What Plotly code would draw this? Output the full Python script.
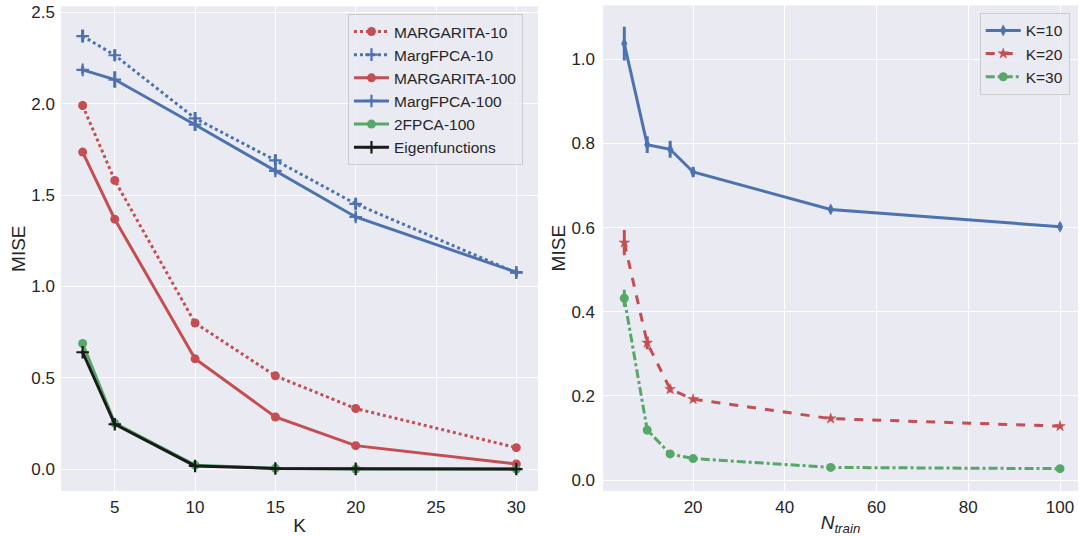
import plotly.graph_objects as go

# ---- data: MISE versus number of components K ----
k_values = [3, 5, 10, 15, 20, 30]
margarita_10 = [1.99, 1.58, 0.80, 0.511, 0.332, 0.118]
margarita_10_err = [0.025, 0.02, 0.01, 0.01, 0.01, 0.008]
margfpca_10 = [2.37, 2.265, 1.92, 1.69, 1.452, 1.075]
margfpca_10_err = [0.035, 0.03, 0.035, 0.03, 0.03, 0.02]
margarita_100 = [1.735, 1.368, 0.604, 0.286, 0.129, 0.029]
margarita_100_err = [0.01, 0.01, 0.008, 0.008, 0.006, 0.005]
margfpca_100 = [2.185, 2.132, 1.885, 1.632, 1.38, 1.078]
margfpca_100_err = [0.02, 0.045, 0.035, 0.02, 0.02, 0.015]
fpca2_100 = [0.688, 0.252, 0.022, 0.005, 0.001, 0.001]
fpca2_100_err = [0.01, 0.008, 0.005, 0.003, 0.002, 0.002]
eigenfunctions = [0.64, 0.246, 0.018, 0.004, 0.002, 0.001]
eigenfunctions_err = [0.01, 0.006, 0.004, 0.002, 0.001, 0.001]

# ---- data: MISE versus training-set size ----
n_train = [5, 10, 15, 20, 50, 100]
k10 = [1.037, 0.797, 0.786, 0.732, 0.643, 0.602]
k10_err = [0.04, 0.02, 0.02, 0.012, 0.008, 0.008]
k20 = [0.564, 0.326, 0.216, 0.192, 0.146, 0.128]
k20_err = [0.03, 0.015, 0.008, 0.005, 0.004, 0.004]
k30 = [0.432, 0.119, 0.062, 0.051, 0.030, 0.027]
k30_err = [0.02, 0.01, 0.008, 0.005, 0.004, 0.004]

BLUE = "#4C72B0"
RED = "#C44E52"
GREEN = "#55A868"
BLACK = "#1A1A1A"
BG = "#EAEAF2"
TXT = "#262626"
FONT = "Liberation Sans, Arial, sans-serif"

fig = go.Figure()


def add_series(x, y, err, name, color, dash, symbol, msize, mline, xa, ya, legend):
    fig.add_trace(go.Scatter(
        x=x, y=y, name=name, mode="lines+markers",
        line=dict(color=color, width=3, dash=dash),
        marker=dict(symbol=symbol, size=msize, color=color,
                    line=dict(color=color, width=mline)),
        error_y=dict(type="data", array=err, color=color, thickness=3, width=0),
        xaxis=xa, yaxis=ya, legend=legend,
    ))


add_series(k_values, margarita_10, margarita_10_err, "MARGARITA-10", RED, "dot", "circle", 9, 0, "x", "y", "legend")
add_series(k_values, margfpca_10, margfpca_10_err, "MargFPCA-10", BLUE, "dot", "cross-thin", 9, 2.2, "x", "y", "legend")
add_series(k_values, margarita_100, margarita_100_err, "MARGARITA-100", RED, "solid", "circle", 9, 0, "x", "y", "legend")
add_series(k_values, margfpca_100, margfpca_100_err, "MargFPCA-100", BLUE, "solid", "cross-thin", 9, 2.2, "x", "y", "legend")
add_series(k_values, fpca2_100, fpca2_100_err, "2FPCA-100", GREEN, "solid", "circle", 9, 0, "x", "y", "legend")
add_series(k_values, eigenfunctions, eigenfunctions_err, "Eigenfunctions", BLACK, "solid", "cross-thin", 9, 2.2, "x", "y", "legend")

add_series(n_train, k10, k10_err, "K=10", BLUE, "solid", "diamond-tall", 8, 0.5, "x2", "y2", "legend2")
add_series(n_train, k20, k20_err, "K=20", RED, "dash", "star", 8, 0.5, "x2", "y2", "legend2")
add_series(n_train, k30, k30_err, "K=30", GREEN, "dashdot", "circle", 9, 0, "x2", "y2", "legend2")

axis_common = dict(
    showgrid=True, gridcolor="white", gridwidth=1.2, zeroline=False,
    showline=False, ticks="", automargin=False,
    tickfont=dict(family=FONT, size=17, color=TXT),
    title_font=dict(family=FONT, size=19, color=TXT),
)

fig.update_layout(
    width=1079, height=536,
    margin=dict(l=0, r=0, t=0, b=0),
    paper_bgcolor="white", plot_bgcolor=BG,
    font=dict(family=FONT, color=TXT),
    xaxis=dict(axis_common, domain=[0.0565, 0.4986], range=[1.65, 31.35],
               tickvals=[5, 10, 15, 20, 25, 30], anchor="y", ticklabelstandoff=4,
               title=dict(text="K", standoff=2)),
    yaxis=dict(axis_common, domain=[0.084, 0.988], range=[-0.119, 2.532],
               tickvals=[0, 0.5, 1.0, 1.5, 2.0, 2.5], tickformat=".1f", anchor="x",
               ticklabelstandoff=5, title=dict(text="MISE", standoff=0)),
    xaxis2=dict(axis_common, domain=[0.5589, 0.999], range=[0.37, 103.9],
                tickvals=[20, 40, 60, 80, 100], anchor="y2", ticklabelstandoff=4,
                title=dict(text="<i>N</i><sub><i>train</i></sub>", standoff=4)),
    yaxis2=dict(axis_common, domain=[0.084, 0.99], range=[-0.026, 1.128],
                tickvals=[0, 0.2, 0.4, 0.6, 0.8, 1.0], tickformat=".1f", anchor="x2",
                ticklabelstandoff=7, title=dict(text="MISE", standoff=0)),
    legend=dict(x=0.3225, y=0.974, xanchor="left", yanchor="top",
                bgcolor="rgba(234,234,242,0.8)", bordercolor="#CCCCCC", borderwidth=1,
                font=dict(family=FONT, size=15.5, color=TXT), itemwidth=35),
    legend2=dict(x=0.908, y=0.976, xanchor="left", yanchor="top",
                 bgcolor="rgba(234,234,242,0.8)", bordercolor="#CCCCCC", borderwidth=1,
                 font=dict(family=FONT, size=15.5, color=TXT), itemwidth=35),
)

fig.write_html("out.html")
